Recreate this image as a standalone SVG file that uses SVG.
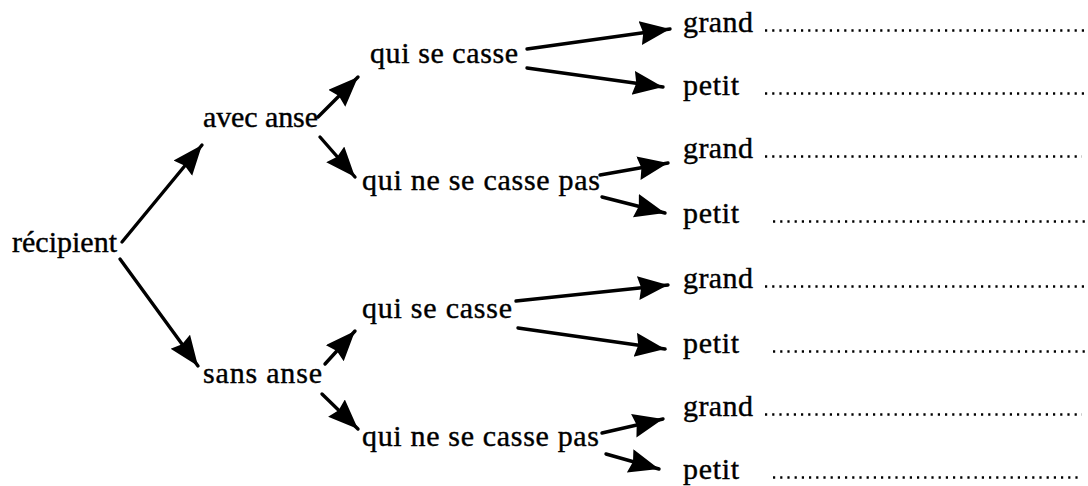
<svg xmlns="http://www.w3.org/2000/svg" width="1088" height="486" viewBox="0 0 1088 486">
<style>
.t{font-family:'Liberation Serif','Times New Roman',serif;font-size:30px;fill:#000;stroke:#000;stroke-width:0.4}
.c line{stroke:#000;stroke-width:3.4;stroke-linecap:round;marker-end:url(#ah)}
.d{stroke:#000;stroke-width:2.4;stroke-dasharray:2.2 5}
</style>
<defs>
<marker id="ah" markerUnits="userSpaceOnUse" markerWidth="34" markerHeight="28" refX="30" refY="12" orient="auto">
<path d="M0,0 L30,12 L0,24 L3,12 z" fill="#000"/>
</marker>
</defs>
<rect width="1088" height="486" fill="#fff"/>
<g id="n-recipient"><text class="t" x="12" y="252" textLength="105">récipient</text></g>
<g id="n-avec"><text class="t" x="203" y="127" textLength="115">avec anse</text></g>
<g id="n-sans"><text class="t" x="203" y="383" textLength="119">sans anse</text></g>
<g id="n-a1"><text class="t" x="370" y="63" textLength="148">qui se casse</text></g>
<g id="n-a2"><text class="t" x="362" y="190" textLength="238">qui ne se casse pas</text></g>
<g id="n-s1"><text class="t" x="362" y="318" textLength="150">qui se casse</text></g>
<g id="n-s2"><text class="t" x="362" y="446" textLength="237">qui ne se casse pas</text></g>
<g id="n-l1"><text class="t" x="683" y="32" textLength="70">grand</text><line class="d" x1="765" y1="30.5" x2="1088" y2="30.5"/></g>
<g id="n-l2"><text class="t" x="683" y="95" textLength="56">petit</text><line class="d" x1="765" y1="93.5" x2="1088" y2="93.5"/></g>
<g id="n-l3"><text class="t" x="683" y="158" textLength="70">grand</text><line class="d" x1="765" y1="156.5" x2="1082" y2="156.5"/></g>
<g id="n-l4"><text class="t" x="683" y="223" textLength="56">petit</text><line class="d" x1="773" y1="221.5" x2="1088" y2="221.5"/></g>
<g id="n-l5"><text class="t" x="683" y="288" textLength="70">grand</text><line class="d" x1="765" y1="286.5" x2="1088" y2="286.5"/></g>
<g id="n-l6"><text class="t" x="683" y="353" textLength="56">petit</text><line class="d" x1="773" y1="351.5" x2="1086" y2="351.5"/></g>
<g id="n-l7"><text class="t" x="683" y="416" textLength="70">grand</text><line class="d" x1="765" y1="414.5" x2="1082" y2="414.5"/></g>
<g id="n-l8"><text class="t" x="683" y="479" textLength="56">petit</text><line class="d" x1="773" y1="477.5" x2="1082" y2="477.5"/></g>
<g id="connectors" class="c">
<line x1="122" y1="242" x2="202" y2="145"/>
<line x1="120" y1="259" x2="198" y2="366"/>
<line x1="318" y1="117" x2="358" y2="77"/>
<line x1="320" y1="137" x2="355" y2="177"/>
<line x1="325" y1="364" x2="355" y2="331"/>
<line x1="322" y1="394" x2="358" y2="429"/>
<line x1="527" y1="49" x2="670" y2="29"/>
<line x1="527" y1="68" x2="663" y2="87"/>
<line x1="600" y1="175" x2="668" y2="163"/>
<line x1="602" y1="197" x2="665" y2="213"/>
<line x1="516" y1="301" x2="668" y2="285"/>
<line x1="518" y1="328" x2="665" y2="349"/>
<line x1="602" y1="433" x2="663" y2="419"/>
<line x1="606" y1="454" x2="659" y2="469"/>
</g>
</svg>
